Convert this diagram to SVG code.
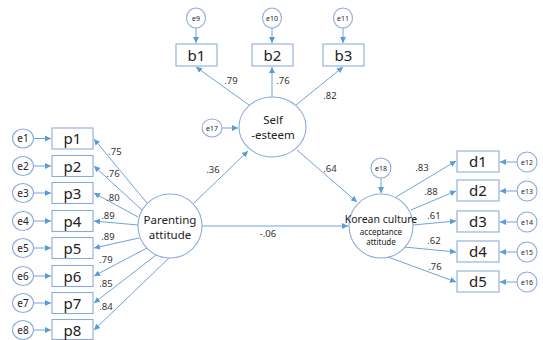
<svg xmlns="http://www.w3.org/2000/svg" width="543" height="340" viewBox="0 0 543 340">
<defs>
<marker id="ah" markerUnits="userSpaceOnUse" markerWidth="7" markerHeight="6" refX="6" refY="3" orient="auto">
<path d="M0,0 L6,3 L0,6 z" fill="#5b9bd5"/>
</marker>
<style>
.sh{fill:#fff;stroke:#8eaadb;stroke-width:1.1}
.ln{stroke:#6fa3dc;stroke-width:1;fill:none;marker-end:url(#ah)}
text{font-family:"Noto Sans","Open Sans","DejaVu Sans",sans-serif;fill:#222;text-anchor:middle}
.bx{font-size:15px}
.el{font-size:10px}
.es{font-size:7px}
.lb{font-size:9.5px;fill:#333}
.lt{font-size:11.5px}
</style>
</defs>
<rect width="543" height="340" fill="#fff"/>
<g id="connectors">
<line class="ln" x1="34" y1="138.5" x2="51" y2="138.5"/>
<line class="ln" x1="34" y1="166" x2="51" y2="166"/>
<line class="ln" x1="34" y1="193" x2="51" y2="193"/>
<line class="ln" x1="34" y1="221" x2="51" y2="221"/>
<line class="ln" x1="34" y1="248" x2="51" y2="248"/>
<line class="ln" x1="34" y1="276" x2="51" y2="276"/>
<line class="ln" x1="34" y1="303" x2="51" y2="303"/>
<line class="ln" x1="34" y1="330" x2="51" y2="330"/>
<line class="ln" x1="147" y1="203" x2="94" y2="139"/>
<line class="ln" x1="142" y1="210" x2="94" y2="166"/>
<line class="ln" x1="138" y1="217" x2="94" y2="193"/>
<line class="ln" x1="138" y1="225" x2="94" y2="221"/>
<line class="ln" x1="139" y1="238" x2="94" y2="248"/>
<line class="ln" x1="147" y1="248" x2="94" y2="276"/>
<line class="ln" x1="160" y1="252" x2="94" y2="303"/>
<line class="ln" x1="170" y1="257" x2="94" y2="330"/>
<line class="ln" x1="196" y1="28" x2="196" y2="43"/>
<line class="ln" x1="272" y1="28" x2="272" y2="43"/>
<line class="ln" x1="343" y1="28" x2="343" y2="43"/>
<line class="ln" x1="249" y1="105" x2="196" y2="67"/>
<line class="ln" x1="272" y1="97" x2="272" y2="67"/>
<line class="ln" x1="296" y1="105" x2="343" y2="67"/>
<line class="ln" x1="222" y1="128" x2="238" y2="128"/>
<line class="ln" x1="194" y1="203" x2="248" y2="151"/>
<line class="ln" x1="297" y1="150" x2="357" y2="202"/>
<line class="ln" x1="202" y1="226" x2="348" y2="226"/>
<line class="ln" x1="381" y1="178" x2="381" y2="193"/>
<line class="ln" x1="396" y1="197" x2="456" y2="161"/>
<line class="ln" x1="411" y1="210" x2="456" y2="191"/>
<line class="ln" x1="413" y1="225" x2="456" y2="221"/>
<line class="ln" x1="404" y1="247" x2="456" y2="252"/>
<line class="ln" x1="388" y1="257" x2="456" y2="282"/>
<line class="ln" x1="517" y1="162" x2="500" y2="162"/>
<line class="ln" x1="517" y1="191" x2="500" y2="191"/>
<line class="ln" x1="517" y1="222" x2="500" y2="222"/>
<line class="ln" x1="517" y1="252" x2="500" y2="252"/>
<line class="ln" x1="517" y1="282" x2="500" y2="282"/>
<text class="lb" x="115" y="155">.75</text>
<text class="lb" x="113" y="177">.76</text>
<text class="lb" x="113" y="201">.80</text>
<text class="lb" x="108" y="219">.89</text>
<text class="lb" x="108" y="240">.89</text>
<text class="lb" x="106" y="263">.79</text>
<text class="lb" x="106" y="287">.85</text>
<text class="lb" x="106" y="310">.84</text>
<text class="lb" x="231" y="84">.79</text>
<text class="lb" x="283" y="84">.76</text>
<text class="lb" x="330" y="99">.82</text>
<text class="lb" x="213" y="173">.36</text>
<text class="lb" x="330" y="172">.64</text>
<text class="lb" x="268" y="237">-.06</text>
<text class="lb" x="422" y="171">.83</text>
<text class="lb" x="431" y="195">.88</text>
<text class="lb" x="434" y="219">.61</text>
<text class="lb" x="434" y="244">.62</text>
<text class="lb" x="435" y="270">.76</text>
</g>
<g id="e1"><ellipse class="sh" cx="23" cy="138.5" rx="10.5" ry="9.5"/><text class="el" x="23" y="142">e1</text></g>
<g id="e2"><ellipse class="sh" cx="23" cy="166" rx="10.5" ry="9.5"/><text class="el" x="23" y="169.5">e2</text></g>
<g id="e3"><ellipse class="sh" cx="23" cy="193" rx="10.5" ry="9.5"/><text class="el" x="23" y="196.5">e3</text></g>
<g id="e4"><ellipse class="sh" cx="23" cy="221" rx="10.5" ry="9.5"/><text class="el" x="23" y="224.5">e4</text></g>
<g id="e5"><ellipse class="sh" cx="23" cy="248" rx="10.5" ry="9.5"/><text class="el" x="23" y="251.5">e5</text></g>
<g id="e6"><ellipse class="sh" cx="23" cy="276" rx="10.5" ry="9.5"/><text class="el" x="23" y="279.5">e6</text></g>
<g id="e7"><ellipse class="sh" cx="23" cy="303" rx="10.5" ry="9.5"/><text class="el" x="23" y="306.5">e7</text></g>
<g id="e8"><ellipse class="sh" cx="23" cy="330" rx="10.5" ry="9.5"/><text class="el" x="23" y="333.5">e8</text></g>
<g id="p1"><rect class="sh" x="52" y="128" width="41" height="21"/><text class="bx" x="72.5" y="144">p1</text></g>
<g id="p2"><rect class="sh" x="52" y="155.5" width="41" height="21"/><text class="bx" x="72.5" y="171.5">p2</text></g>
<g id="p3"><rect class="sh" x="52" y="182.5" width="41" height="21"/><text class="bx" x="72.5" y="198.5">p3</text></g>
<g id="p4"><rect class="sh" x="52" y="210.5" width="41" height="21"/><text class="bx" x="72.5" y="226.5">p4</text></g>
<g id="p5"><rect class="sh" x="52" y="237.5" width="41" height="21"/><text class="bx" x="72.5" y="253.5">p5</text></g>
<g id="p6"><rect class="sh" x="52" y="265.5" width="41" height="21"/><text class="bx" x="72.5" y="281.5">p6</text></g>
<g id="p7"><rect class="sh" x="52" y="292.5" width="41" height="21"/><text class="bx" x="72.5" y="308.5">p7</text></g>
<g id="p8"><rect class="sh" x="52" y="319.5" width="41" height="20"/><text class="bx" x="72.5" y="335.5">p8</text></g>
<g id="parenting"><circle class="sh" cx="170" cy="226" r="32"/><text class="lt" x="170" y="224">Parenting</text><text class="lt" x="170" y="239">attitude</text></g>
<g id="e9"><ellipse class="sh" cx="196" cy="18" rx="9.5" ry="10"/><text class="es" x="196" y="20.5">e9</text></g>
<g id="e10"><ellipse class="sh" cx="272" cy="18" rx="9.5" ry="10"/><text class="es" x="272" y="20.5">e10</text></g>
<g id="e11"><ellipse class="sh" cx="343" cy="18" rx="9.5" ry="10"/><text class="es" x="343" y="20.5">e11</text></g>
<g id="b1"><rect class="sh" x="176" y="44" width="41" height="22"/><text class="bx" x="196.5" y="60.5">b1</text></g>
<g id="b2"><rect class="sh" x="252" y="44" width="41" height="22"/><text class="bx" x="272.5" y="60.5">b2</text></g>
<g id="b3"><rect class="sh" x="323" y="44" width="41" height="22"/><text class="bx" x="343.5" y="60.5">b3</text></g>
<g id="e17"><ellipse class="sh" cx="212" cy="128" rx="10" ry="9"/><text class="es" x="212" y="130.5">e17</text></g>
<g id="selfesteem"><ellipse class="sh" cx="272.5" cy="127" rx="33.5" ry="30"/><text class="lt" x="273" y="124">Self</text><text class="lt" x="273" y="139">-esteem</text></g>
<g id="e18"><ellipse class="sh" cx="381" cy="168" rx="10" ry="10"/><text class="es" x="381" y="170.5">e18</text></g>
<g id="korean"><circle class="sh" cx="381" cy="226" r="32"/><text x="381" y="223" style="font-size:10.5px">Korean culture</text><text x="381" y="234.5" style="font-size:8px">acceptance</text><text x="381" y="245" style="font-size:8px">attitude</text></g>
<g id="d1"><rect class="sh" x="457" y="151" width="42" height="21"/><text class="bx" x="478" y="167">d1</text></g>
<g id="d2"><rect class="sh" x="457" y="180" width="42" height="21"/><text class="bx" x="478" y="196">d2</text></g>
<g id="d3"><rect class="sh" x="457" y="211" width="42" height="21"/><text class="bx" x="478" y="227">d3</text></g>
<g id="d4"><rect class="sh" x="457" y="241" width="42" height="21"/><text class="bx" x="478" y="257">d4</text></g>
<g id="d5"><rect class="sh" x="457" y="271" width="42" height="21"/><text class="bx" x="478" y="287">d5</text></g>
<g id="e12"><ellipse class="sh" cx="527" cy="162" rx="10" ry="10"/><text class="es" x="527" y="164.5">e12</text></g>
<g id="e13"><ellipse class="sh" cx="527" cy="191" rx="10" ry="10"/><text class="es" x="527" y="193.5">e13</text></g>
<g id="e14"><ellipse class="sh" cx="527" cy="222" rx="10" ry="10"/><text class="es" x="527" y="224.5">e14</text></g>
<g id="e15"><ellipse class="sh" cx="527" cy="252" rx="10" ry="10"/><text class="es" x="527" y="254.5">e15</text></g>
<g id="e16"><ellipse class="sh" cx="527" cy="282" rx="10" ry="10"/><text class="es" x="527" y="284.5">e16</text></g>
</svg>
